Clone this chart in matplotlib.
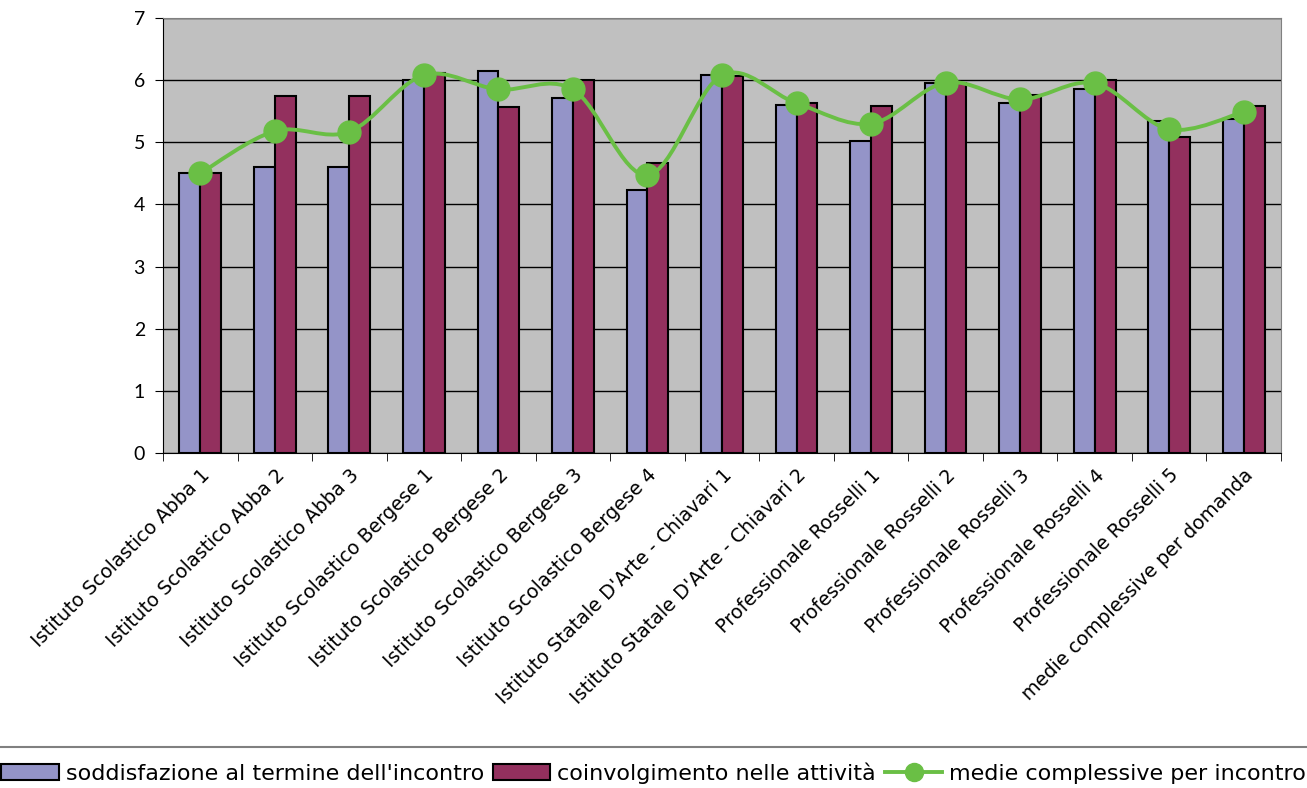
import numpy as np
import matplotlib.pyplot as plt
from matplotlib.path import Path
from matplotlib.patches import PathPatch
from matplotlib.lines import Line2D

categories = [
    "Istituto Scolastico Abba 1",
    "Istituto Scolastico Abba 2",
    "Istituto Scolastico Abba 3",
    "Istituto Scolastico Bergese 1",
    "Istituto Scolastico Bergese 2",
    "Istituto Scolastico Bergese 3",
    "Istituto Scolastico Bergese 4",
    "Istituto Statale D'Arte - Chiavari 1",
    "Istituto Statale D'Arte - Chiavari 2",
    "Professionale Rosselli 1",
    "Professionale Rosselli 2",
    "Professionale Rosselli 3",
    "Professionale Rosselli 4",
    "Professionale Rosselli 5",
    "medie complessive per domanda",
]

soddisfazione = [4.50, 4.60, 4.60, 6.01, 6.14, 5.72, 4.24, 6.08, 5.60, 5.02, 5.95, 5.64, 5.85, 5.34, 5.37]
coinvolgimento = [4.50, 5.75, 5.75, 6.11, 5.56, 6.01, 4.66, 6.07, 5.64, 5.59, 5.95, 5.76, 6.01, 5.08, 5.59]
medie = [4.50, 5.18, 5.17, 6.08, 5.85, 5.85, 4.47, 6.08, 5.63, 5.30, 5.96, 5.69, 5.95, 5.21, 5.49]

labels = ["soddisfazione al termine dell'incontro",
          "coinvolgimento nelle attività",
          "medie complessive per incontro"]

BLUE = "#9494C8"
RED = "#93305E"
GREEN = "#6ABF45"


def smooth_path(xs, ys):
    # catmull-rom spline as cubic bezier segments (like Excel smoothed line)
    pts = np.column_stack([xs, ys])
    verts = [pts[0]]
    codes = [Path.MOVETO]
    n = len(pts)
    for i in range(n - 1):
        p0 = pts[i - 1] if i > 0 else pts[i]
        p1 = pts[i]
        p2 = pts[i + 1]
        p3 = pts[i + 2] if i + 2 < n else pts[i + 1]
        c1 = p1 + (p2 - p0) / 6.0
        c2 = p2 - (p3 - p1) / 6.0
        verts += [c1, c2, p2]
        codes += [Path.CURVE4] * 3
    return Path(verts, codes)


fig = plt.figure(figsize=(13.07, 7.88), dpi=100)
ax = fig.add_axes([163 / 1307, 1 - 453 / 788, (1281 - 163) / 1307, (453 - 18) / 788])
ax.set_facecolor("#C0C0C0")

x = np.arange(len(categories))
w = 0.28

ax.bar(x - w / 2, soddisfazione, width=w, color=BLUE, edgecolor="black", linewidth=1.5, zorder=2)
ax.bar(x + w / 2, coinvolgimento, width=w, color=RED, edgecolor="black", linewidth=1.5, zorder=2)

patch = PathPatch(smooth_path(x, medie), facecolor="none", edgecolor=GREEN, linewidth=2.8, zorder=3)
ax.add_patch(patch)
ax.plot(x, medie, linestyle="none", marker="o", markersize=16.5, color=GREEN, zorder=4)

ax.set_xlim(-0.5, len(categories) - 0.5)
ax.set_ylim(0, 7)
ax.set_yticks(range(0, 8))
ax.yaxis.grid(True, color="black", linewidth=1)
ax.set_axisbelow(True)

for s in ["top", "right"]:
    ax.spines[s].set_color("#808080")
ax.spines["left"].set_color("black")
ax.spines["bottom"].set_color("black")

ax.set_xticks(x)
ax.set_xticklabels(categories, rotation=45, ha="right", rotation_mode="anchor", fontsize=13.8)
ax.tick_params(axis="x", which="major", length=0, pad=9)
ax.set_xticks(np.arange(-0.5, len(categories)), minor=True)
ax.tick_params(axis="x", which="minor", length=6, direction="out")
ax.tick_params(axis="y", length=6, direction="out", labelsize=14, pad=7)
for t in ax.get_yticklabels():
    t.set_family("Lato")

# separator line above legend
fig.add_artist(Line2D([0, 1], [1 - 747 / 788, 1 - 747 / 788], color="#808080", linewidth=1.5))

handles = [
    plt.Rectangle((0, 0), 1, 1, facecolor=BLUE, edgecolor="black", linewidth=1.5),
    plt.Rectangle((0, 0), 1, 1, facecolor=RED, edgecolor="black", linewidth=1.5),
    Line2D([0], [0], color=GREEN, linewidth=2.8, marker="o", markersize=13),
]
fig.legend(handles, labels, loc="center", bbox_to_anchor=(0.5, 1 - 773 / 788), ncol=3,
           frameon=False, fontsize=16, handlelength=2.6, handletextpad=0.3,
           columnspacing=0.4, borderaxespad=0)

fig.savefig("out.png", dpi=100)
